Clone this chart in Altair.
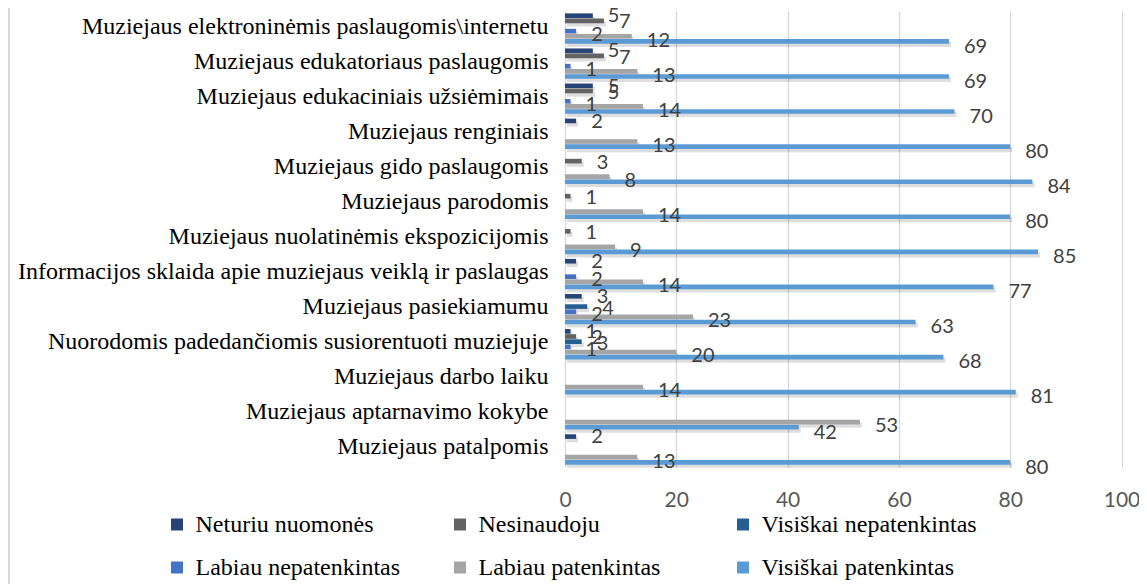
import altair as alt
import pandas as pd

categories = [
    "Muziejaus elektroninėmis paslaugomis\\internetu",
    "Muziejaus edukatoriaus paslaugomis",
    "Muziejaus edukaciniais užsiėmimais",
    "Muziejaus renginiais",
    "Muziejaus gido paslaugomis",
    "Muziejaus parodomis",
    "Muziejaus nuolatinėmis ekspozicijomis",
    "Informacijos sklaida apie muziejaus veiklą ir paslaugas",
    "Muziejaus pasiekiamumu",
    "Nuorodomis padedančiomis susiorentuoti muziejuje",
    "Muziejaus darbo laiku",
    "Muziejaus aptarnavimo kokybe",
    "Muziejaus patalpomis",
]

series = [
    "Neturiu nuomonės",
    "Nesinaudoju",
    "Visiškai nepatenkintas",
    "Labiau nepatenkintas",
    "Labiau patenkintas",
    "Visiškai patenkintas",
]
colors = ["#264478", "#636363", "#255E91", "#4472C4", "#A5A5A5", "#5B9BD5"]

neturiu_nuomones = [5, 5, 5, 2, None, None, None, 2, 3, 1, None, None, 2]
nesinaudoju = [7, 7, 5, None, 3, 1, 1, None, None, 2, None, None, None]
visiskai_nepatenkintas = [None, None, None, None, None, None, None, None, 4, 3, None, None, None]
labiau_nepatenkintas = [2, 1, 1, None, None, None, None, 2, 2, 1, None, None, None]
labiau_patenkintas = [12, 13, 14, 13, 8, 14, 9, 14, 23, 20, 14, 53, 13]
visiskai_patenkintas = [69, 69, 70, 80, 84, 80, 85, 77, 63, 68, 81, 42, 80]

x_ticks = [0, 20, 40, 60, 80, 100]

columns = [neturiu_nuomones, nesinaudoju, visiskai_nepatenkintas,
           labiau_nepatenkintas, labiau_patenkintas, visiskai_patenkintas]
rows = []
for s, vals in zip(series, columns):
    for c, v in zip(categories, vals):
        if v is not None:
            rows.append({"Kategorija": c, "Serija": s, "Reikšmė": v})
df = pd.DataFrame(rows)

y_enc = alt.Y(
    "Kategorija:N",
    sort=categories,
    scale=alt.Scale(domain=categories, paddingInner=0.12, paddingOuter=0.06),
    axis=alt.Axis(
        title=None, labelFont="Liberation Serif", labelFontSize=24,
        labelColor="#000000", labelLimit=800, labelPadding=17,
        labelOffset=-2, ticks=False, domain=False,
    ),
)
x_enc = alt.X(
    "Reikšmė:Q",
    scale=alt.Scale(domain=[0, 100]),
    axis=alt.Axis(
        values=x_ticks, title=None, grid=True, gridColor="#D9D9D9",
        gridWidth=1.3, domain=False, ticks=False, labelFont="Lato",
        labelFontSize=21, labelColor="#595959", labelPadding=22,
        labelFlush=False,
    ),
)

shadow = alt.Chart(df).mark_bar(
    color="#000000", opacity=0.13, xOffset=2
).encode(
    y=y_enc,
    x=x_enc,
    yOffset=alt.YOffset(
        "Serija:N",
        sort=series,
        scale=alt.Scale(domain=series, paddingInner=0.0, paddingOuter=0.03,
                        range=[3, 34]),
    ),
)

base = alt.Chart(df).encode(
    y=y_enc,
    x=x_enc,
    yOffset=alt.YOffset(
        "Serija:N",
        sort=series,
        scale=alt.Scale(domain=series, paddingInner=0.1, paddingOuter=0.05),
    ),
)

bars = base.mark_bar().encode(
    color=alt.Color(
        "Serija:N",
        sort=series,
        scale=alt.Scale(domain=series, range=colors),
        legend=alt.Legend(
            title=None, orient="none", legendX=-400, legendY=501.5,
            direction="horizontal", columns=3, gridAlign="all",
            symbolType="square", symbolSize=144, symbolStrokeWidth=0,
            labelFont="Liberation Serif", labelFontSize=24,
            labelColor="#000000", labelOffset=6.5, labelLimit=500,
            columnPadding=37, rowPadding=19, padding=0,
        ),
    )
)

labels = base.mark_text(
    align="left", baseline="middle", dx=15, dy=3,
    font="Lato", fontSize=20, color="#404040",
).encode(text=alt.Text("Reikšmė:Q"))

frame = alt.Chart(pd.DataFrame({"v": [0]})).mark_rule(
    color="#D9D9D9", strokeWidth=2
).encode(x=alt.value(-556), y=alt.value(-11), y2=alt.value(600))

chart = alt.layer(frame, shadow, bars, labels).resolve_scale(
    yOffset="independent"
).properties(
    width=556.5,
    height=456,
    autosize=alt.AutoSizeParams(type="none"),
    padding={"left": 557, "top": 3, "right": 17.5, "bottom": 117},
).configure_view(stroke=None)

chart.save("out.html", embed_options={"renderer": "svg", "actions": False})
